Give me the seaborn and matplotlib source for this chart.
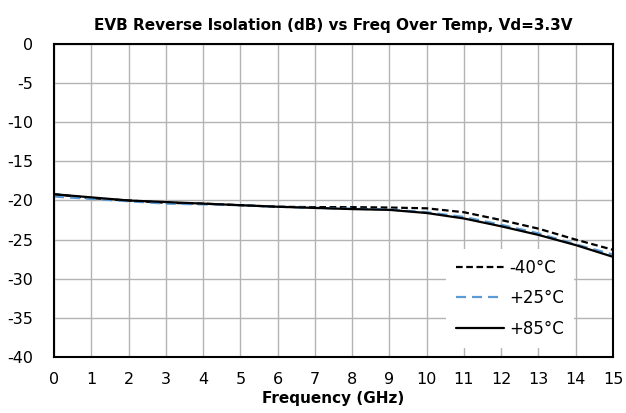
import numpy as np
import pandas as pd
import matplotlib
matplotlib.use("Agg")
import matplotlib.pyplot as plt
import seaborn as sns

freq = [0, 1, 2, 3, 4, 5, 6, 7, 8, 9, 10, 11, 12, 13, 14, 15]
iso_m40 = [-19.2, -19.7, -20.0, -20.3, -20.4, -20.6, -20.8, -20.85, -20.85, -20.9, -21.0, -21.5, -22.5, -23.6, -25.0, -26.3]
iso_p25 = [-19.5, -19.8, -20.1, -20.4, -20.5, -20.6, -20.8, -20.95, -21.05, -21.15, -21.5, -22.1, -23.1, -24.2, -25.6, -26.9]
iso_p85 = [-19.2, -19.6, -20.0, -20.2, -20.4, -20.6, -20.8, -20.95, -21.1, -21.2, -21.6, -22.3, -23.3, -24.4, -25.7, -27.2]
labels = ["-40°C", "+25°C", "+85°C"]

df = pd.DataFrame({
    "freq": freq * 3,
    "iso": iso_m40 + iso_p25 + iso_p85,
    "temp": [labels[0]] * len(freq) + [labels[1]] * len(freq) + [labels[2]] * len(freq),
})

sns.set_style("white")
plt.rcParams["font.family"] = ["DejaVu Sans"]
plt.rcParams["axes.unicode_minus"] = False
plt.rcParams["text.color"] = "black"
plt.rcParams["axes.labelcolor"] = "black"
plt.rcParams["xtick.color"] = "black"
plt.rcParams["ytick.color"] = "black"

fig = plt.figure(figsize=(6.26, 4.13), dpi=100)
ax = fig.add_axes([0.0863, 0.1356, 0.8929, 0.7579])

palette = {labels[0]: "black", labels[1]: "#5b9bd5", labels[2]: "black"}
dashes = {labels[0]: (3, 1.6), labels[1]: (4.5, 2.7), labels[2]: ""}
sns.lineplot(data=df, x="freq", y="iso", hue="temp", style="temp",
             palette=palette, dashes=dashes, linewidth=1.6, ax=ax,
             hue_order=labels, style_order=labels)

ax.set_xlim(0, 15)
ax.set_ylim(-40, 0)
ax.set_xticks(np.arange(0, 16, 1))
ax.set_yticks(np.arange(-40, 1, 5))
ax.grid(True, color="#b3b3b3", linewidth=1)
ax.tick_params(length=0, labelsize=11.5)
ax.tick_params(axis="x", pad=11)
ax.tick_params(axis="y", pad=15)
for s in ax.spines.values():
    s.set_color("black")
    s.set_linewidth(1.5)

ax.set_xlabel("Frequency (GHz)", fontsize=11, fontweight="bold", labelpad=3)
ax.set_ylabel("")
ax.set_title("EVB Reverse Isolation (dB) vs Freq Over Temp, Vd=3.3V",
             fontsize=11, fontweight="bold", pad=10)

leg = ax.legend(loc="lower right", bbox_to_anchor=(0.93, 0.03), frameon=True,
                fontsize=12, handlelength=2.9, labelspacing=0.75,
                borderpad=0.6, handletextpad=0.3, borderaxespad=0)
leg.get_frame().set_facecolor("white")
leg.get_frame().set_edgecolor("none")
leg.get_frame().set_alpha(1)

fig.savefig("out.png", dpi=100)
